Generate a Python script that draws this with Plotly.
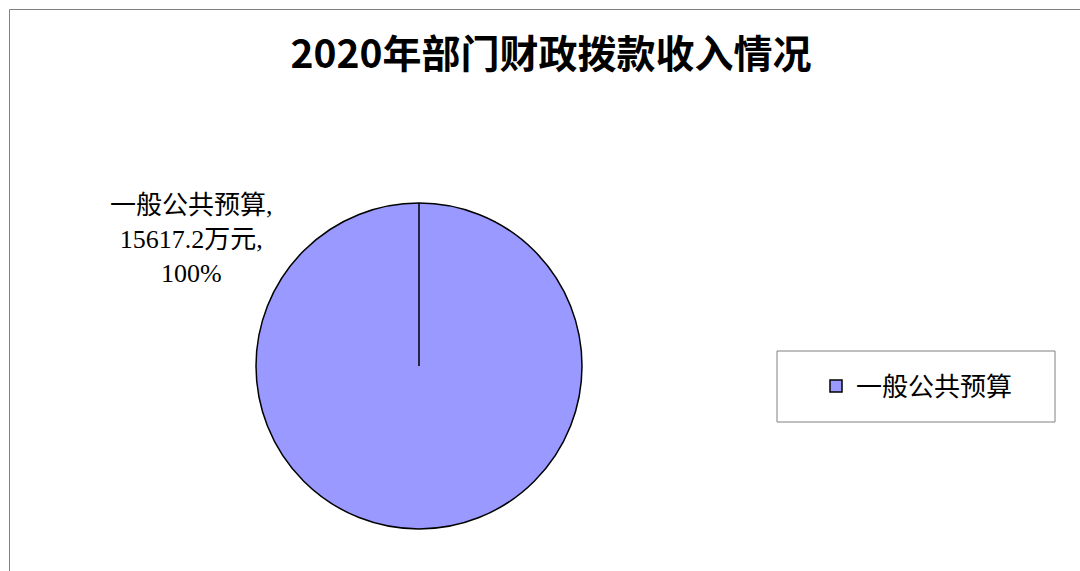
import plotly.graph_objects as go

# Data
categories = ["一般公共预算"]
values = [15617.2]
unit = "万元"
title_text = "2020年部门财政拨款收入情况"

W, H = 1080, 571
cx_px, cy_px, r_px = 419, 366, 163

dx0 = (cx_px - r_px) / W
dx1 = (cx_px + r_px) / W
dy0 = 1 - (cy_px + r_px) / H
dy1 = 1 - (cy_px - r_px) / H

total = sum(values)
label_text = "<br>".join([
    f"{categories[0]},",
    f"{values[0]:g}{unit},",
    f"{values[0] / total * 100:.0f}%",
])

fig = go.Figure()
fig.add_trace(go.Pie(
    labels=categories,
    values=values,
    sort=False,
    direction="clockwise",
    rotation=0,
    textinfo="none",
    hoverinfo="label+value+percent",
    marker=dict(colors=["#9999FF"], line=dict(color="#000000", width=1.5)),
    domain=dict(x=[dx0, dx1], y=[dy0, dy1]),
    showlegend=True,
))

cjk = "Liberation Serif, Noto Sans CJK SC, sans-serif"

fig.update_layout(
    width=W, height=H,
    margin=dict(l=0, r=0, t=0, b=0),
    paper_bgcolor="white",
    plot_bgcolor="white",
    title=dict(
        text=title_text,
        x=551 / W, xanchor="center",
        y=1 - 54 / H, yanchor="middle",
        font=dict(family="Noto Sans CJK SC, sans-serif", size=39, color="#000000", weight="bold"),
    ),
    legend=dict(
        x=816 / W, xanchor="left",
        y=1 - 386 / H, yanchor="middle",
        font=dict(family=cjk, size=26, color="#000000"),
        bgcolor="rgba(0,0,0,0)",
        borderwidth=0,
    ),
    annotations=[dict(
        text=label_text,
        x=191 / W, y=1 - 239 / H,
        xref="paper", yref="paper",
        xanchor="center", yanchor="middle",
        showarrow=False, align="center",
        font=dict(family=cjk, size=26, color="#000000"),
    )],
    shapes=[
        # radial edge line from centre to top of the pie
        dict(type="line", xref="paper", yref="paper",
             x0=cx_px / W, x1=cx_px / W, y0=1 - cy_px / H, y1=dy1,
             line=dict(color="#000000", width=1.5)),
        # legend box
        dict(type="rect", xref="paper", yref="paper",
             x0=777 / W, x1=1055 / W, y0=1 - 422 / H, y1=1 - 351 / H,
             line=dict(color="#808080", width=1)),
        # chart frame (top and left edges)
        dict(type="line", xref="paper", yref="paper",
             x0=9.5 / W, x1=1.0, y0=1 - 9.5 / H, y1=1 - 9.5 / H,
             line=dict(color="#808080", width=1)),
        dict(type="line", xref="paper", yref="paper",
             x0=9.5 / W, x1=9.5 / W, y0=0, y1=1 - 9.5 / H,
             line=dict(color="#808080", width=1)),
    ],
)

fig.write_html("out.html", config={"displayModeBar": False},
               post_script="document.body.style.margin='0';")
